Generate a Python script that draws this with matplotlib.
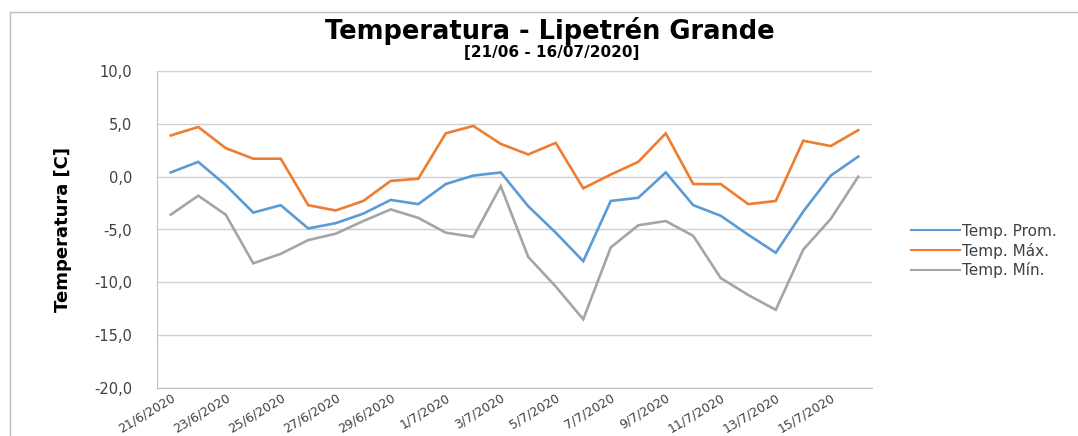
import matplotlib
matplotlib.use('Agg')
import matplotlib.pyplot as plt
from matplotlib.lines import Line2D

# datos diarios 21/6 - 16/7/2020
fechas = [f'{d}/6/2020' for d in range(21, 31)] + [f'{d}/7/2020' for d in range(1, 17)]

temp_prom = [0.4, 1.4, -0.8, -3.4, -2.7, -4.9, -4.4, -3.5, -2.2, -2.6, -0.7, 0.1, 0.4,
             -2.8, -5.3, -8.0, -2.3, -2.0, 0.4, -2.7, -3.7, -5.5, -7.2, -3.3, 0.1, 1.9]
temp_max = [3.9, 4.7, 2.7, 1.7, 1.7, -2.7, -3.2, -2.3, -0.4, -0.2, 4.1, 4.8, 3.1,
            2.1, 3.2, -1.1, 0.2, 1.4, 4.1, -0.7, -0.7, -2.6, -2.3, 3.4, 2.9, 4.4]
temp_min = [-3.6, -1.8, -3.6, -8.2, -7.3, -6.0, -5.4, -4.2, -3.1, -3.9, -5.3, -5.7, -0.9,
            -7.6, -10.4, -13.5, -6.7, -4.6, -4.2, -5.6, -9.6, -11.2, -12.6, -6.9, -4.0, 0.0]

series = [('Temp. Prom.', temp_prom, '#5b9bd5'),
          ('Temp. Máx.', temp_max, '#ed7d31'),
          ('Temp. Mín.', temp_min, '#a5a5a5')]

W, H = 1078, 436
fig = plt.figure(figsize=(W / 100, H / 100), dpi=100)
ax = fig.add_axes([157 / W, 1 - 388 / H, (872 - 157) / W, (388 - 71) / H])

x = list(range(len(fechas)))
for nombre, vals, color in series:
    ax.plot(x, vals, color=color, lw=1.9, label=nombre, solid_joinstyle='miter')

ax.set_xlim(-0.5, len(fechas) - 0.5)
ax.set_ylim(-20, 10)
ax.set_yticks(range(-20, 11, 5))
ax.set_yticklabels([f'{v:.1f}'.replace('.', ',') for v in range(-20, 11, 5)],
                   fontsize=10.5, color='#404040')
ax.set_xticks(x[::2])
ax.set_xticklabels(fechas[::2], rotation=31, ha='right', va='top',
                   rotation_mode='anchor', fontsize=9, color='#404040')
ax.tick_params(length=0, axis='both')
ax.tick_params(axis='y', pad=18)
ax.tick_params(axis='x', pad=2)
ax.grid(axis='y', color='#d0d0d0', lw=1)
ax.set_axisbelow(True)
for s in ['top', 'right']:
    ax.spines[s].set_visible(False)
ax.spines['left'].set_color('#c0c0c0')
ax.spines['bottom'].set_color('#c0c0c0')

ax.set_ylabel('Temperatura [C]', fontsize=13, fontweight='bold', labelpad=16)

fig.text(550 / W, 1 - 31 / H, 'Temperatura - Lipetrén Grande', ha='center', va='center',
         fontsize=18.5, fontweight='bold')
fig.text(552 / W, 1 - 53 / H, '[21/06 - 16/07/2020]', ha='center', va='center',
         fontsize=11, fontweight='bold')

handles = [Line2D([], [], color=c, lw=1.5) for _, _, c in series]
fig.legend(handles, [n for n, _, _ in series], loc='center left',
           bbox_to_anchor=(897 / W, 1 - 251 / H), frameon=False, fontsize=11,
           handlelength=3.2, handletextpad=0.15, labelspacing=0.25, labelcolor='#404040')

# marco del gráfico
fig.add_artist(Line2D([10 / W, 10 / W], [0, 1 - 12 / H], color='#bfbfbf', lw=1))
fig.add_artist(Line2D([10 / W, 1], [1 - 12 / H, 1 - 12 / H], color='#bfbfbf', lw=1))

fig.savefig('out.png', dpi=100)
